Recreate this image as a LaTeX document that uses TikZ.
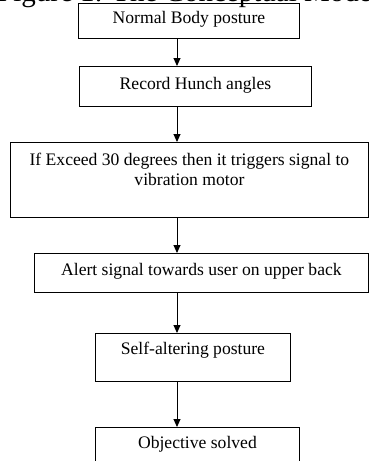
\documentclass[tikz,border=0pt]{standalone}
\usepackage{fontspec}
\setmainfont{Liberation Serif}
\usetikzlibrary{arrows.meta}

\newcommand{\boxtxt}[4]{\parbox[c][#2][t]{#1}{\centering\rule{0pt}{#3}#4}}

\tikzset{
  flowbox/.style={draw, line width=0.9pt, inner sep=0pt, anchor=north west,
    font=\fontsize{17.6}{20}\selectfont},
  flow/.style={line width=0.9pt, -{Triangle[length=8pt,width=7pt]}}
}

\begin{document}
\begin{tikzpicture}[x=1pt,y=-1pt]
\useasboundingbox (0,0) rectangle (369,461);

\coordinate (spine) at (177,0);

\node[flowbox] (normal) at (78,3) {\boxtxt{221pt}{35pt}{20pt}{Normal Body posture}};
\node[flowbox] (record) at (79,66) {\boxtxt{232pt}{40pt}{23pt}{Record Hunch angles}};
\node[flowbox] (exceed) at (10,142) {\boxtxt{358pt}{75pt}{23pt}{If Exceed 30 degrees then it triggers signal to\\vibration motor}};
\node[flowbox] (alert) at (34,253) {\boxtxt{334pt}{39pt}{22pt}{Alert signal towards user on upper back}};
\node[flowbox] (selfalter) at (95,333) {\boxtxt{195pt}{48pt}{21pt}{Self-altering posture}};
\node[flowbox] (solved) at (95,427) {\boxtxt{204pt}{45pt}{21pt}{Objective solved}};

\draw[flow] (normal.south -| spine) -- (record.north -| spine);
\draw[flow] (record.south -| spine) -- (exceed.north -| spine);
\draw[flow] (exceed.south -| spine) -- (alert.north -| spine);
\draw[flow] (alert.south -| spine) -- (selfalter.north -| spine);
\draw[flow] (selfalter.south -| spine) -- (solved.north -| spine);

%---------------------------------------------------------------------------------------------------
\node[anchor=base west, inner sep=0pt, font=\fontsize{29}{34}\selectfont] (caption) at (-3,1) {Figure 1: The Conceptual Model};
\end{tikzpicture}
\end{document}
